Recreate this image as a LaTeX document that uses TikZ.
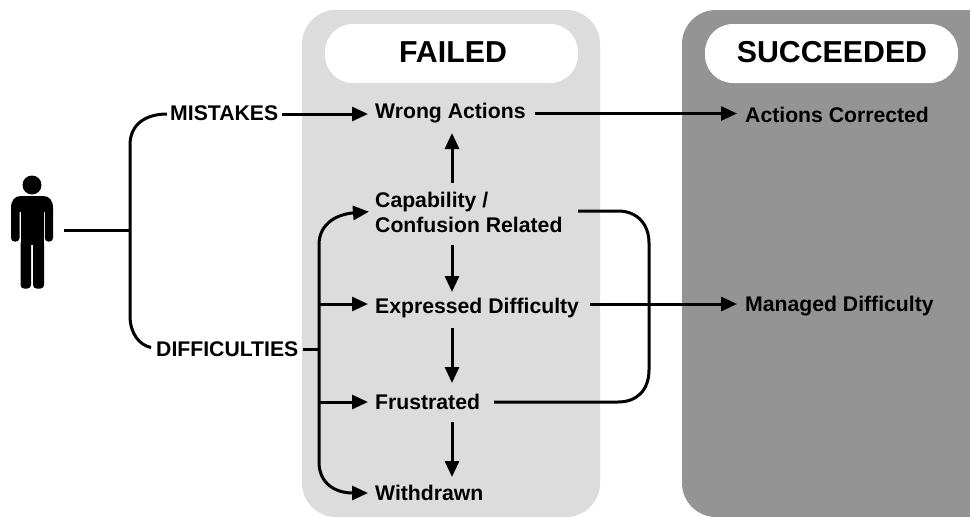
\documentclass[tikz,border=0pt]{standalone}
\usepackage{fontspec}
\setmainfont{Liberation Sans}
\usetikzlibrary{arrows.meta}
\definecolor{panelA}{HTML}{DCDCDC}
\definecolor{panelB}{HTML}{949494}
\tikzset{
 x=1pt,y=-1pt,
 lab/.style={inner sep=0pt,anchor=west,font=\fontsize{21.2}{25}\selectfont\bfseries,align=left},
 head/.style={inner sep=0pt,font=\fontsize{30.3}{34}\selectfont\bfseries},
 ln/.style={line width=3pt,black},
 tip/.tip={Triangle[length=16pt,width=14pt,inset=0pt]},
 arr/.style={ln,-tip},
 arrb/.style={ln,tip-tip},
 person/.style={fill=black,rounded corners=3.5pt},
}
\begin{document}
\begin{tikzpicture}
\useasboundingbox (0,0) rectangle (970,517);
\fill[white] (0,0) rectangle (970,517);
% panels
\fill[panelA,rounded corners=34pt] (302,10) rectangle (600,517);
\fill[panelB,rounded corners=34pt] (682,10) rectangle (1010,517);
\fill[white,rounded corners=28pt] (325,24) rectangle (578,83);
\fill[white,rounded corners=28pt] (705,24) rectangle (958,83);
\node[head] (failed) at (453,52) {FAILED};
\node[head] (succ) at (832,52) {SUCCEEDED};
% person
\node[circle,fill=black,minimum size=19pt,inner sep=0pt] (headp) at (32,185) {};
\path[person] (20.5,240) -- (20.5,288.5) -- (31,288.5) -- (31,240) -- cycle;
\path[person] (33,240) -- (33,288.5) -- (44,288.5) -- (44,240) -- cycle;
\fill[black] (20.5,205) rectangle (44,245);
\fill[black] (11,208) .. controls (11,200) and (15,196) .. (21,196) -- (43,196) .. controls (49,196) and (53,200) .. (53,208) -- (53,212) -- (11,212) -- cycle;
\path[person] (11,208) -- (11,241.5) -- (19.5,241.5) -- (19.5,208) -- cycle;
\path[person] (44.8,208) -- (44.8,241.5) -- (53,241.5) -- (53,208) -- cycle;
\coordinate (personout) at (64,230.7);
% labels
\node[lab] (mist) at (170,113) {MISTAKES};
\node[lab] (diff) at (156,349) {DIFFICULTIES};
\node[lab] (wrong) at (375,113.5) {Wrong Actions};
\node[lab] (cap) at (375,212) {Capability /\\Confusion Related};
\node[lab] (expr) at (375,308) {Expressed Difficulty};
\node[lab] (frus) at (375,402) {Frustrated};
\node[lab] (with) at (375,493) {Withdrawn};
\node[lab] (corr) at (745,114.5) {Actions Corrected};
\node[lab] (mng) at (745,306.5) {Managed Difficulty};
\coordinate (spine) at (130,230.7);
\coordinate (busd) at (319,349);
% connectors
\draw[ln] (personout) -- (spine);
\draw[ln] ([xshift=-3pt,yshift=-1pt]mist.west) .. controls (146,114) and (130,124) .. (130,145) -- (130,316) .. controls (130,333) and (139,345) .. ([xshift=-5pt,yshift=1.5pt]diff.west);
\draw[arr] ([xshift=4pt,yshift=-1pt]mist.east) -- (368,114);
\draw[arr] ([xshift=9pt]wrong.east) -- (737,113.5);
\draw[ln] ([xshift=4pt]diff.east) -- (busd);
\draw[arrb] (369,211.7) .. controls (339,214) and (319,222) .. (319,245) -- (319,462) .. controls (319,484) and (336,493) .. (368,493);
\draw[arr] (319,304) -- (368,304);
\draw[arr] (319,402) -- (368,402);
\draw[arr] (452,183) -- (452,133);
\draw[arr] (452,245) -- (452,292);
\draw[arr] (452,328) -- (452,383);
\draw[arr] (452,422) -- (452,477);
\draw[ln] (578,211) -- (618,211) .. controls (637,211) and (649,224) .. (649,243) -- (649,370) .. controls (649,390) and (637,402) .. (618,402) -- (494,402);
\draw[arr] ([xshift=11pt,yshift=4pt]expr.east) -- (737,304);
\end{tikzpicture}
\end{document}
